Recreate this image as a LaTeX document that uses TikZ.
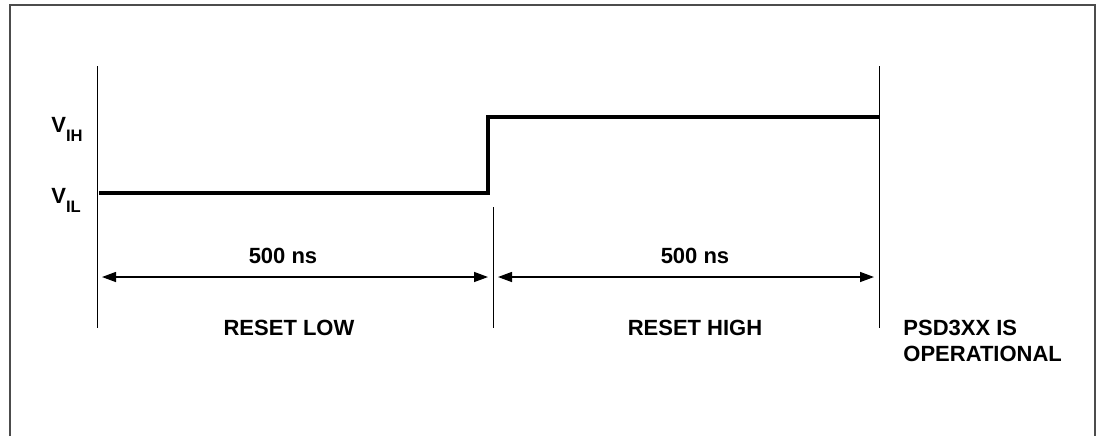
\documentclass[tikz,border=0pt]{standalone}
\usepackage{fontspec}
\setmainfont{Liberation Sans}
\usepackage{xcolor}
\usepackage{tikz}
\usetikzlibrary{arrows.meta}

\tikzset{
  lbl/.style={inner sep=0pt, font=\fontsize{11}{13}\selectfont\bfseries},
  marker/.style={line width=0.5pt},
  signal/.style={line width=2pt, line join=miter},
  span/.style={line width=0.7pt, {Triangle[length=7pt,width=5pt]}-{Triangle[length=7pt,width=5pt]}, shorten <=2.5pt, shorten >=2.5pt},
  frame/.style={line width=1pt, draw=black!70}
}
\newcommand{\volt}[1]{V\raisebox{-4.5pt}{\fontsize{8.3}{9}\selectfont #1}}

\begin{document}
\begin{tikzpicture}[x=0.5pt, y=-0.5pt]
    \useasboundingbox (0,0) rectangle (1099,436);
    \draw[frame] (10,436) -- (10,5) -- (1095,5) -- (1095,436);

    % time markers
    \coordinate (T0top) at (97,66);
    \coordinate (T0bot) at (97,328);
    \coordinate (T1top) at (493,207);
    \coordinate (T1bot) at (493,328);
    \coordinate (T2top) at (879,66);
    \coordinate (T2bot) at (879,328);
    \draw[marker] (T0top) -- (T0bot);
    \draw[marker] (T1top) -- (T1bot);
    \draw[marker] (T2top) -- (T2bot);

    % reset signal
    \coordinate (S0) at (99,193);
    \coordinate (S1) at (488,193);
    \coordinate (S2) at (488,117);
    \coordinate (S3) at (879,117);
    \draw[signal] (S0) -- (S1) -- (S2) -- (S3);

    \node[lbl, anchor=base west] (VIH) at (51,132) {\volt{IH}};
    \node[lbl, anchor=base west] (VIL) at (51,203) {\volt{IL}};

    % durations
    \coordinate (A0) at (97,277);
    \coordinate (A1) at (493,277);
    \coordinate (A2) at (879,277);
    \draw[span] (A0) -- (A1);
    \draw[span] (A1) -- (A2);
    \node[lbl, anchor=base] (D1) at (283,263) {500 ns};
    \node[lbl, anchor=base] (D2) at (695,263) {500 ns};

    \node[lbl, anchor=base] (RL) at (289,335) {RESET LOW};
    \node[lbl, anchor=base] (RH) at (695,335) {RESET HIGH};
    \node[lbl, anchor=base west, align=left] (OP) at (903,361) {PSD3XX IS\\OPERATIONAL};
\end{tikzpicture}
\end{document}
